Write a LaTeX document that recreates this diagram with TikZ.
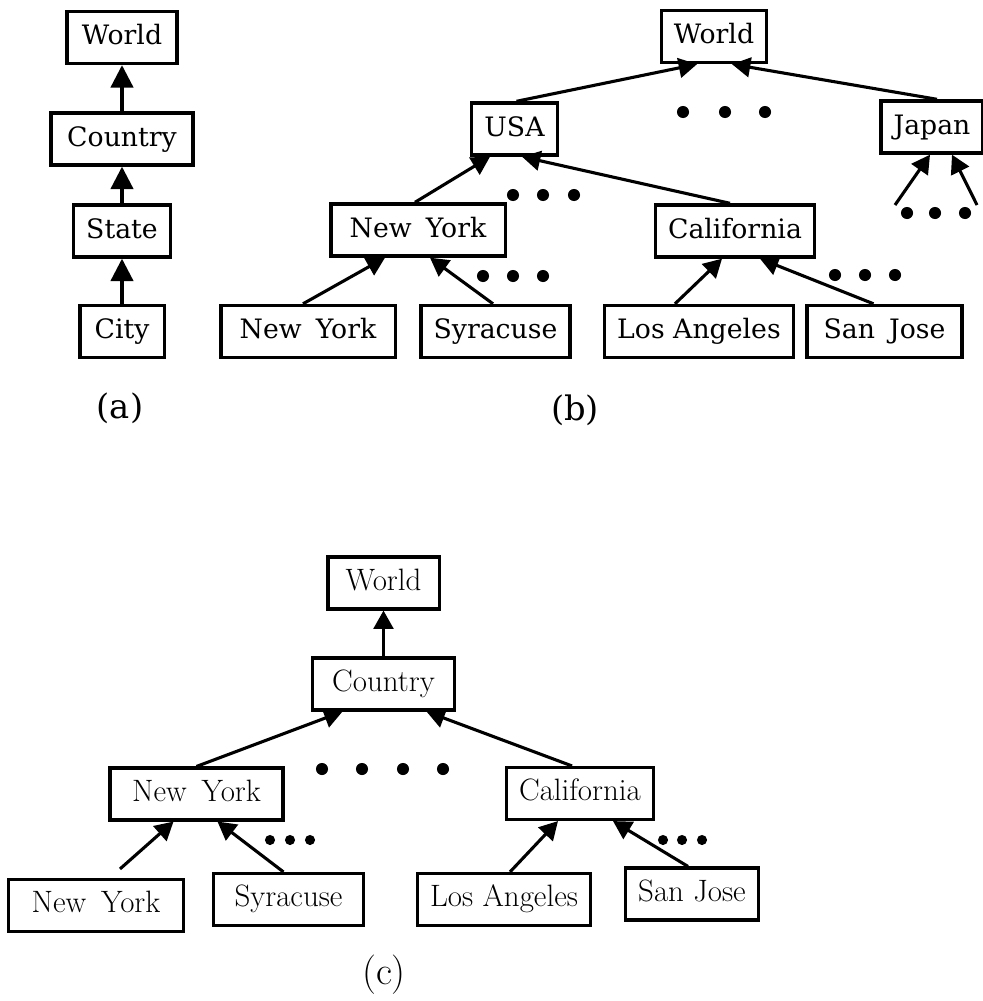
\documentclass[tikz,border=0pt]{standalone}
\usepackage{fontspec}
\newfontfamily\schfont{DejaVu Serif}
\usetikzlibrary{arrows.meta}

\begin{document}
\begin{tikzpicture}[x=0.025cm,y=-0.025cm,
  box/.style={draw,line width=2.4pt,inner xsep=9pt,inner ysep=0pt,
    minimum height=37pt,text height=14.5pt,text depth=4.5pt},
  boxab/.style={box,font=\schfont\fontsize{19}{23}\selectfont},
  boxc/.style={box,line width=2.2pt,font=\fontsize{22}{26}\selectfont},
  link/.style={line width=2.2pt,-{Triangle[length=13pt,width=14pt]}},
  biglink/.style={link,-{Triangle[length=16pt,width=16pt]}},
  caption/.style={font=\schfont\fontsize{24}{28}\selectfont}
]
\useasboundingbox (0,0) rectangle (983,1001);

% (a)
\node[boxab,minimum width=78pt] (worlda) at (122,37.5) {World};
\node[boxab,minimum width=101pt] (countrya) at (122,139) {Country};
\node[boxab] (statea) at (122,231) {State};
\node[boxab,minimum width=60pt] (citya) at (122,331.5) {City};
\node[caption] (capa) at (120,408) {(a)};
\foreach \c/\p in {countrya/worlda,statea/countrya,citya/statea}
  \draw[biglink] (\c.north) -- (\p.south);

% (b)
\node[boxab] (worldb) at (714,36.5) {World};
\node[boxab] (usa) at (514.5,129) {USA};
\node[boxab] (japan) at (932,127) {Japan};
\node[boxab,minimum width=124pt] (nyb) at (418,230) {New\hspace{4pt} York};
\node[boxab] (califb) at (735,231) {California};
\node[boxab,minimum width=124pt] (nyb2) at (308,331.5) {New\hspace{4pt} York};
\node[boxab] (syrb) at (495.5,331.5) {Syracuse};
\node[boxab] (lab) at (699,331.5) {Los Angeles};
\node[boxab,minimum width=110pt] (sjb) at (884.5,331.5) {San\hspace{4pt} Jose};
\node[caption] (capb) at (575,410) {(b)};
\coordinate (jleft) at (895,205);
\coordinate (jright) at (977,205);
\foreach \c/\cx/\p/\px in {usa/2/worldb/-17,japan/5/worldb/18,
    nyb/-3/usa/-24.5,califb/-5/usa/7.5,nyb2/-5/nyb/-33,syrb/-2.5/nyb/12,
    lab/-24/califb/-13,sjb/-11/califb/25}
  \draw[link] ([shift={(\cx,0)}]\c.north) -- ([shift={(\px,0)}]\p.south);
\draw[link] (jleft) -- ([shift={(-2,0)}]japan.south);
\draw[link] (jright) -- ([shift={(20,0)}]japan.south);
\foreach \x/\y in {683/112,725/112,765/112,513/195,543/195,574/195,
    907/213,935/213,965/213,483/276,513/276,543/276,835/275,865/275,895/275}
  \fill (\x,\y) circle (4.3pt);

% (c)
\node[boxc,minimum width=79pt] (worldc) at (383.5,583) {World};
\node[boxc,minimum width=101pt] (countryc) at (383.5,684) {Country};
\node[boxc,minimum width=123pt] (nyc) at (196.5,794) {New\hspace{4pt} York};
\node[boxc] (califc) at (580,793.5) {California};
\node[boxc,minimum width=124pt] (nyc2) at (96,905.5) {New\hspace{4pt} York};
\node[boxc,minimum width=107pt] (syrc) at (288.5,899.5) {Syracuse};
\node[boxc] (lac) at (504,899.5) {Los Angeles};
\node[boxc] (sjc) at (692,894) {San Jose};
\node[font=\fontsize{28}{32}\selectfont] (capc) at (384,975) {(c)};
\foreach \c/\cx/\p/\px in {countryc/0/worldc/0,nyc/0/countryc/-41,
    califc/-8/countryc/43,syrc/-5/nyc/21,lac/6/califc/-22,sjc/-4/califc/33}
  \draw[link] ([shift={(\cx,0)}]\c.north) -- ([shift={(\px,0)}]\p.south);
\draw[link] ([shift={(24,-9)}]nyc2.north) -- ([shift={(-23,0)}]nyc.south);
\foreach \x in {322,362,403,443}
  \fill (\x,769) circle (4.3pt);
\foreach \x/\y in {270/840,290/840,310/840,663/840,682/840,702/840}
  \fill (\x,\y) circle (3.6pt);
\end{tikzpicture}
\end{document}
